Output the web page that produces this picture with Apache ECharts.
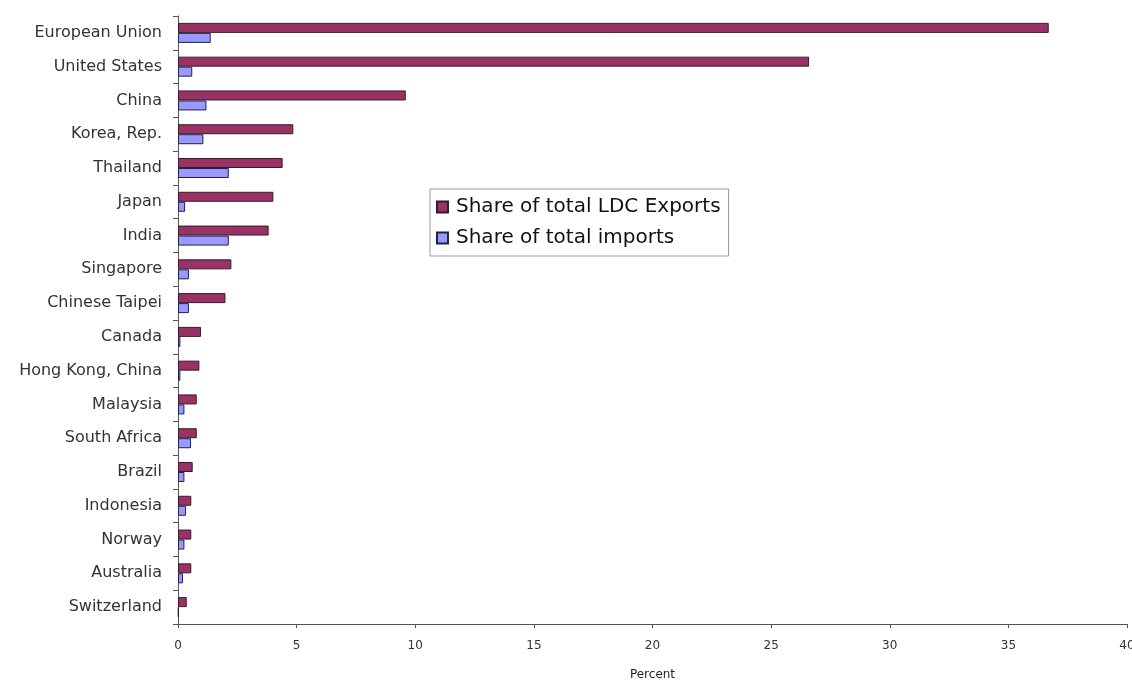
<!DOCTYPE html>
<html>
<head>
<meta charset="utf-8">
<script src="https://cdn.jsdelivr.net/npm/echarts@6/dist/echarts.min.js"></script>
<style>
  html, body { margin: 0; padding: 0; background: #fff; }
  #chart { width: 1132px; height: 681px; }
</style>
</head>
<body>
<div id="chart"></div>
<script>
// partner countries, top to bottom
const countries = [
  'European Union', 'United States', 'China', 'Korea, Rep.', 'Thailand', 'Japan',
  'India', 'Singapore', 'Chinese Taipei', 'Canada', 'Hong Kong, China', 'Malaysia',
  'South Africa', 'Brazil', 'Indonesia', 'Norway', 'Australia', 'Switzerland'
]
const ldcExports = [
  36.7, 26.6, 9.6, 4.86, 4.41, 4.02, 3.82, 2.25, 2.0, 0.97, 0.9, 0.79,
  0.79, 0.62, 0.56, 0.56, 0.56, 0.37
]
const totalImports = [
  1.38, 0.6, 1.2, 1.07, 2.14, 0.3, 2.14, 0.46, 0.46, 0.1, 0.1, 0.27,
  0.55, 0.27, 0.34, 0.27, 0.21, 0.03
]
const xTicks = [0, 5, 10, 15, 20, 25, 30, 35, 40]

const chart = echarts.init(document.getElementById('chart'))

const option = {
  backgroundColor: '#fff',
  animation: false,
  textStyle: { fontFamily: 'DejaVu Sans, sans-serif' },
  grid: { left: 178, right: 5, top: 16, bottom: 57, outerBoundsMode: 'none' },
  legend: {
    orient: 'vertical',
    left: 430,
    top: 189,
    icon: 'rect',
    itemWidth: 11,
    itemHeight: 11,
    itemGap: 11,
    padding: [8, 8, 8, 6],
    borderColor: '#999',
    borderWidth: 1,
    textStyle: { fontSize: 20, color: '#111', padding: [0, 0, 0, 3] },
    data: ['Share of total LDC Exports', 'Share of total imports']
  },
  xAxis: {
    type: 'value',
    min: xTicks[0],
    max: xTicks[xTicks.length - 1],
    interval: 5,
    name: 'Percent',
    nameLocation: 'middle',
    nameGap: 45,
    nameTextStyle: { fontSize: 12, color: '#222' },
    splitLine: { show: false },
    axisLine: { show: true, lineStyle: { color: '#555' } },
    axisTick: { show: true, length: 4, lineStyle: { color: '#555' } },
    axisLabel: { fontSize: 12, color: '#333', margin: 16 }
  },
  yAxis: {
    type: 'category',
    inverse: true,
    data: countries,
    axisLine: { show: true, lineStyle: { color: '#555' } },
    axisTick: { show: true, length: 5, lineStyle: { color: '#555' } },
    axisLabel: { fontSize: 16, color: '#333', margin: 16 }
  },
  series: [
    {
      name: 'Share of total LDC Exports',
      type: 'bar',
      data: ldcExports,
      barWidth: 10,
      barGap: '0%',
      itemStyle: { color: '#993366', borderColor: '#3a1a2a', borderWidth: 1 }
    },
    {
      name: 'Share of total imports',
      type: 'bar',
      data: totalImports,
      barWidth: 10,
      barGap: '0%',
      itemStyle: { color: '#9999ff', borderColor: '#222244', borderWidth: 1 }
    }
  ]
}

chart.setOption(option)
</script>
</body>
</html>
